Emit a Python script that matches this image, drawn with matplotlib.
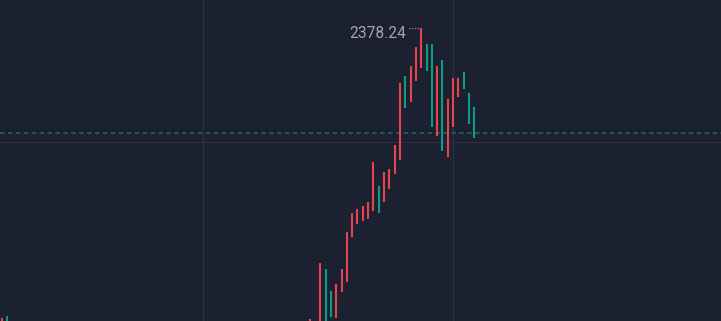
import matplotlib.pyplot as plt
import numpy as np

# ---- données (bougies, seules celles visibles dans le cadre) ----
idx = [0, 1, 58, 60, 61, 62, 63, 64, 65, 66, 67, 68, 69, 70, 71, 72, 73, 74,
       75, 76, 77, 78, 79, 80, 81, 82, 83, 84, 85, 86, 87, 88, 89]
opens = [2222.00, 2231.03, 2220.00, 2218.00, 2254.80, 2243.84, 2229.70, 2243.32,
         2248.45, 2271.49, 2277.85, 2279.69, 2280.41, 2284.81, 2297.46, 2289.11,
         2295.77, 2303.46, 2310.78, 2353.81, 2340.64, 2351.40, 2357.75, 2370.04,
         2370.04, 2323.23, 2362.00, 2312.47, 2327.53, 2343.20, 2355.70, 2344.94,
         2337.77]
closes = [2230.00, 2224.00, 2229.19, 2257.87, 2221.00, 2230.52, 2247.11, 2254.80,
          2274.06, 2283.79, 2285.53, 2287.37, 2289.42, 2309.91, 2283.48, 2304.63,
          2306.02, 2318.46, 2350.07, 2337.41, 2358.93, 2368.50, 2378.24, 2356.52,
          2327.53, 2358.93, 2315.54, 2341.87, 2352.63, 2352.63, 2347.15, 2329.22,
          2321.90]
plus_haut = 2378.24
prix_ligne = 2324.61
grille_y = [2320]
grille_x = [38, 85]

############ style ############
fond = '#1b2130'
couleur_grille = '#2a303e'
rouge = '#e5434f'
vert = '#0e9b84'

fig = plt.figure(figsize=(7.21, 3.21), dpi=100)
fig.patch.set_facecolor(fond)
ax = fig.add_axes([0, 0, 1, 1])
ax.set_facecolor(fond)

ax.set_xlim(-0.32, 135.46)
ax.set_ylim(2228.3, 2392.74)

for g in grille_x:
    ax.axvline(g, color=couleur_grille, lw=1, zorder=0)
for g in grille_y:
    ax.axhline(g, color=couleur_grille, lw=1, zorder=0)

o = np.array(opens)
c = np.array(closes)
couleurs = [rouge if c[i] >= o[i] else vert for i in range(len(o))]
ax.vlines(idx, np.minimum(o, c), np.maximum(o, c), colors=couleurs,
          linewidth=1.5, zorder=3)

# ligne du prix courant
ax.axhline(prix_ligne, color='#1d5a52', lw=1.5, linestyle=(0, (2.2, 1.6)), zorder=2)

# étiquette du plus haut
i_max = idx[int(np.argmax(c))]
ax.plot([i_max - 2.3, i_max - 0.3], [plus_haut, plus_haut], color='#a3a6af',
        lw=0.8, linestyle=(0, (1, 1.5)), zorder=2)
ax.text(i_max - 2.9, plus_haut - 2.5, f"{plus_haut:.2f}", color='#a3a6af',
        fontsize=11.2, family='Roboto', ha='right', va='center')

ax.axis('off')
fig.savefig('out.png', dpi=100, facecolor=fond)
